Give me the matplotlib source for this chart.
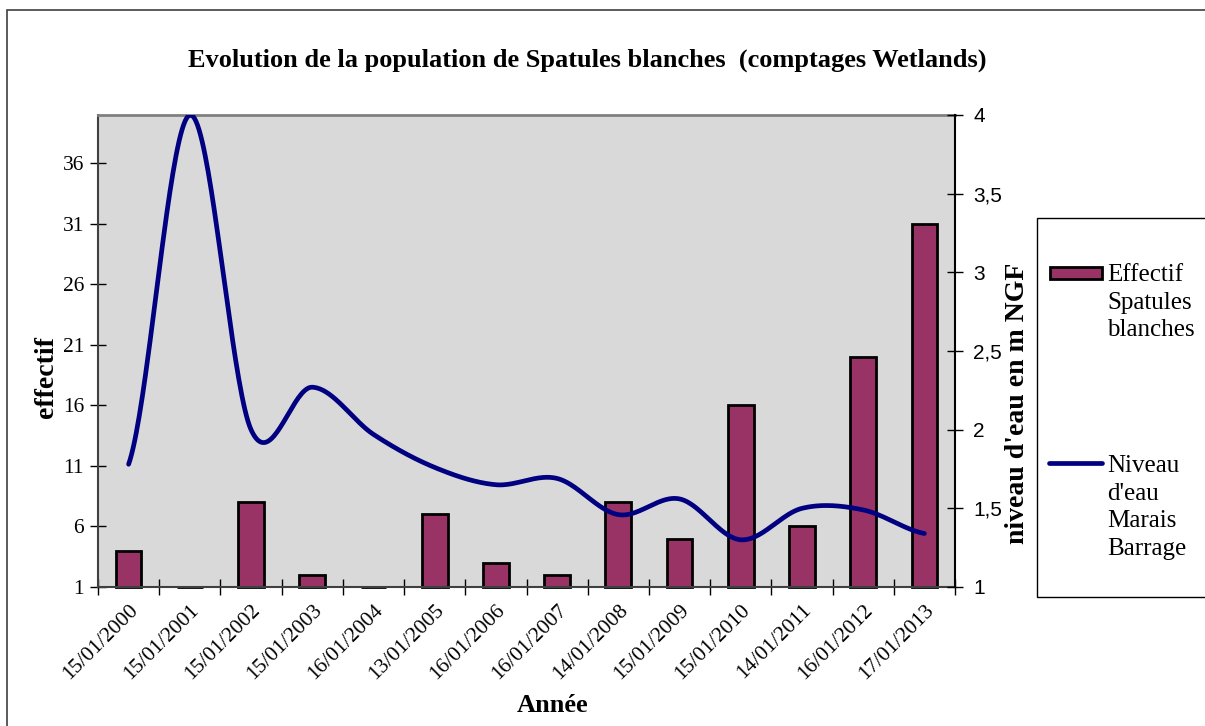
import numpy as np
import matplotlib
matplotlib.use("Agg")
import matplotlib.pyplot as plt
from matplotlib.patches import Rectangle
from matplotlib.lines import Line2D

plt.rcParams['font.family'] = ['Liberation Serif', 'DejaVu Serif']

# Comptages Wetlands et niveau d'eau du marais
dates = ["15/01/2000", "15/01/2001", "15/01/2002", "15/01/2003", "16/01/2004",
         "13/01/2005", "16/01/2006", "16/01/2007", "14/01/2008", "15/01/2009",
         "15/01/2010", "14/01/2011", "16/01/2012", "17/01/2013"]
effectif = [4, 1, 8, 2, 1, 7, 3, 2, 8, 5, 16, 6, 20, 31]
niveau = [1.78, 4.0, 2.0, 2.27, 1.97, 1.76, 1.65, 1.69, 1.46, 1.56, 1.30, 1.50, 1.49, 1.34]

left_ticks = [1, 6, 11, 16, 21, 26, 31, 36]
right_ticks = [1, 1.5, 2, 2.5, 3, 3.5, 4]
right_labels = ["1", "1,5", "2", "2,5", "3", "3,5", "4"]

BAR_COLOR = "#993366"
LINE_COLOR = "#000080"
W, H = 1205, 726


def smooth(y, n=40):
    # courbe lissée type Catmull-Rom passant par chaque point
    y = np.asarray(y, dtype=float)
    p = np.concatenate([[y[0]], y, [y[-1]]])
    xs, ys = [], []
    for i in range(len(y) - 1):
        p0, p1, p2, p3 = p[i:i + 4]
        t = np.linspace(0, 1, n, endpoint=(i == len(y) - 2))
        m1, m2 = (p2 - p0) / 2, (p3 - p1) / 2
        h00 = 2 * t**3 - 3 * t**2 + 1
        h10 = t**3 - 2 * t**2 + t
        h01 = -2 * t**3 + 3 * t**2
        h11 = t**3 - t**2
        xs.append(i + t)
        ys.append(h00 * p1 + h10 * m1 + h01 * p2 + h11 * m2)
    return np.concatenate(xs), np.concatenate(ys)


def fx(px):
    return px / W


def fy(py):
    return 1 - py / H


fig = plt.figure(figsize=(W / 100, H / 100), dpi=100)

# cadre du graphique
fig.add_artist(Rectangle((fx(7), fy(740)), fx(1220) - fx(7), fy(10) - fy(740),
                         transform=fig.transFigure, fill=False,
                         edgecolor="#404040", linewidth=1.2))

ax = fig.add_axes([fx(98), fy(587), fx(955) - fx(98), fy(115) - fy(587)])
ax.set_facecolor("#D9D9D9")

x = np.arange(len(dates))
ax.bar(x, np.array(effectif) - 1, bottom=1, width=0.42, color=BAR_COLOR,
       edgecolor="black", linewidth=2, zorder=2, clip_on=False)

ax.set_xlim(-0.5, len(dates) - 0.5)
ax.set_ylim(1, 40)
ax.set_yticks(left_ticks)
ax.tick_params(axis='y', direction='inout', length=12, width=1, labelsize=15.5, pad=4)

ax.set_xticks(np.arange(-0.5, len(dates)), labels=[""] * (len(dates) + 1))
ax.tick_params(axis='x', which='major', direction='inout', length=12, width=1)
ax.set_xticks(x, labels=dates, minor=True)
ax.tick_params(axis='x', which='minor', length=0, pad=10, labelsize=15.5)
for lab in ax.get_xticklabels(minor=True):
    lab.set_rotation(45)
    lab.set_ha('right')
    lab.set_va('top')
    lab.set_rotation_mode('anchor')

for side in ['left', 'bottom']:
    ax.spines[side].set_color("#404040")
    ax.spines[side].set_linewidth(1.5)
ax.spines['top'].set_color("#808080")
ax.spines['top'].set_linewidth(2)
ax.spines['right'].set_visible(False)

ax2 = ax.twinx()
sx, sy = smooth(niveau)
ax2.plot(sx, sy, color=LINE_COLOR, linewidth=3.4, solid_capstyle='round', zorder=3)
ax2.set_ylim(1, 4)
ax2.set_yticks(right_ticks, labels=right_labels)
ax2.tick_params(axis='y', direction='inout', length=12, width=1, pad=7)
for lab in ax2.get_yticklabels():
    lab.set_family('Liberation Sans')
    lab.set_fontsize(15)
ax2.spines['right'].set_color("black")
ax2.spines['right'].set_linewidth(1.5)
for side in ['left', 'top', 'bottom']:
    ax2.spines[side].set_visible(False)

fig.text(fx(587), fy(60), "Evolution de la population de Spatules blanches  (comptages Wetlands)",
         ha='center', va='center', fontsize=19, fontweight='bold')
fig.text(fx(46), fy(377), "effectif", rotation=90, ha='center', va='center',
         fontsize=20, fontweight='bold')
fig.text(fx(1018), fy(403), "niveau d'eau en m NGF", rotation=90, ha='center', va='center',
         fontsize=20, fontweight='bold')
fig.text(fx(553), fy(706), "Année", ha='center', va='center', fontsize=19, fontweight='bold')

# légende
fig.add_artist(Rectangle((fx(1037), fy(597)), fx(1220) - fx(1037), fy(218) - fy(597),
                         transform=fig.transFigure, facecolor="white",
                         edgecolor="black", linewidth=1))
fig.add_artist(Rectangle((fx(1050), fy(279)), fx(1102) - fx(1050), fy(267) - fy(279),
                         transform=fig.transFigure, facecolor=BAR_COLOR,
                         edgecolor="black", linewidth=2))
fig.add_artist(Line2D([fx(1049), fx(1102)], [fy(463), fy(463)], transform=fig.transFigure,
                      color=LINE_COLOR, linewidth=3.4, solid_capstyle='round'))
fig.text(fx(1107), fy(264), "Effectif\nSpatules\nblanches", ha='left', va='top',
         fontsize=18, linespacing=1.33)
fig.text(fx(1107), fy(455), "Niveau\nd'eau\nMarais\nBarrage", ha='left', va='top',
         fontsize=18, linespacing=1.33)

fig.savefig("out.png", dpi=100)
